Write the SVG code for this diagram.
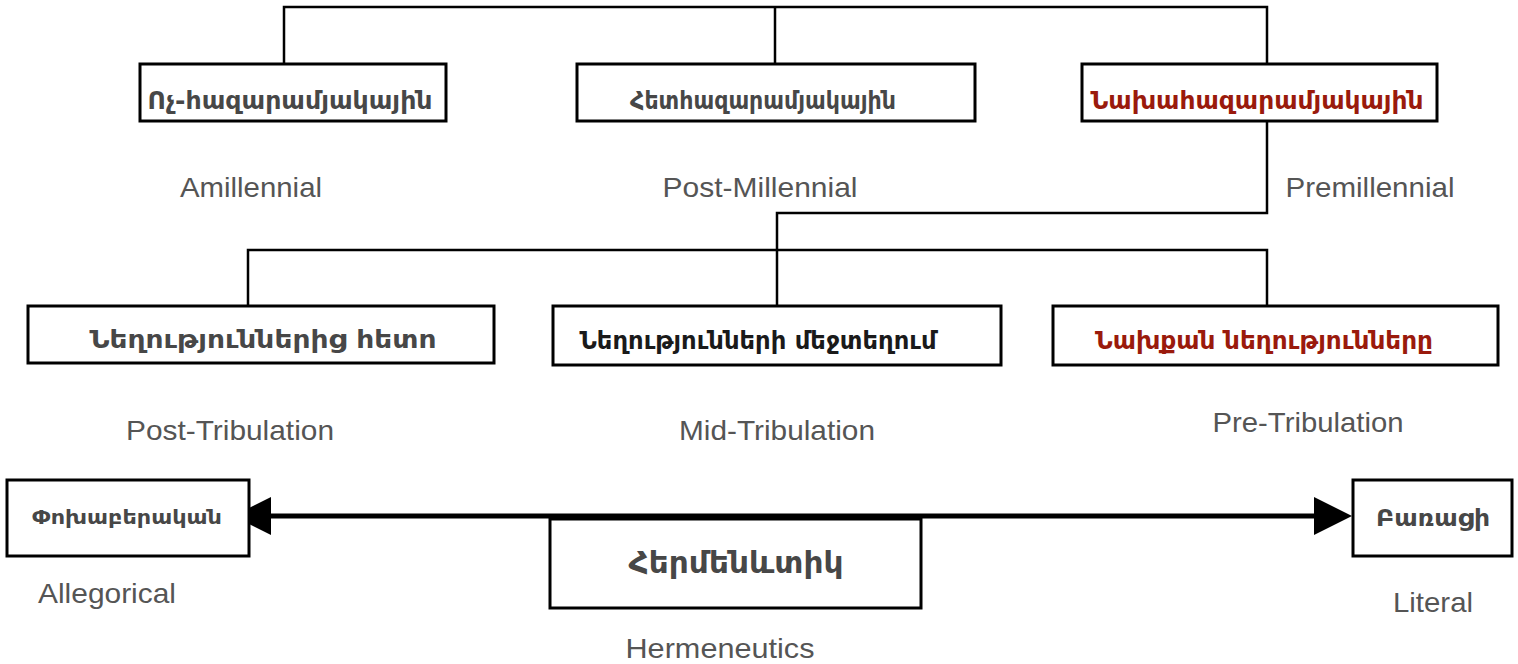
<svg xmlns="http://www.w3.org/2000/svg" width="1518" height="664" viewBox="0 0 1518 664">
<defs>
<style>
.box{fill:#fff;stroke:#000;stroke-width:3}
.hy{font-family:"DejaVu Sans","Noto Sans",sans-serif;font-weight:bold;text-anchor:middle;fill:#474747}
.red{fill:#9a1a0c}
.blk{fill:#1a1a1a}
.en{font-family:"Liberation Sans",Arial,sans-serif;font-size:28px;fill:#555;text-anchor:middle}
.ln{stroke:#000;stroke-width:2.5;fill:none}
</style>
</defs>
<g id="connectors">
<polyline class="ln" points="284,63 284,7 1267,7 1267,63"/>
<line class="ln" x1="775" y1="7" x2="775" y2="63"/>
<polyline class="ln" points="1267,121 1267,213 777,213 777,306"/>
<polyline class="ln" points="248,306 248,250 1267,250 1267,306"/>
<line x1="265" y1="516" x2="1320" y2="516" stroke="#000" stroke-width="5"/>
<polygon points="233,516 271,497 271,535" fill="#000"/>
<polygon points="1352,516 1314,497 1314,535" fill="#000"/>
</g>
<g id="n-amil">
<rect class="box" x="140" y="64" width="306" height="57"/>
<text class="hy" x="290" y="109" font-size="24" textLength="285" lengthAdjust="spacingAndGlyphs">Ոչ-հազարամյակային</text>
<text class="en" x="251" y="197" textLength="142" lengthAdjust="spacingAndGlyphs">Amillennial</text>
</g>
<g id="n-postmil">
<rect class="box" x="577" y="64" width="398" height="57"/>
<text class="hy" x="763" y="109" font-size="24" textLength="266" lengthAdjust="spacingAndGlyphs">Հետհազարամյակային</text>
<text class="en" x="760" y="197" textLength="195" lengthAdjust="spacingAndGlyphs">Post-Millennial</text>
</g>
<g id="n-premil">
<rect class="box" x="1082" y="64" width="355" height="57"/>
<text class="hy red" x="1257" y="109" font-size="24" textLength="333" lengthAdjust="spacingAndGlyphs">Նախահազարամյակային</text>
<text class="en" x="1370" y="197" textLength="169" lengthAdjust="spacingAndGlyphs">Premillennial</text>
</g>
<g id="n-posttrib">
<rect class="box" x="28" y="306" width="466" height="57"/>
<text class="hy" x="263" y="348" font-size="24" textLength="347" lengthAdjust="spacingAndGlyphs">Նեղություններից հետո</text>
<text class="en" x="230" y="440" textLength="208" lengthAdjust="spacingAndGlyphs">Post-Tribulation</text>
</g>
<g id="n-midtrib">
<rect class="box" x="553" y="306" width="448" height="59"/>
<text class="hy blk" x="758" y="349" font-size="24" textLength="357" lengthAdjust="spacingAndGlyphs">Նեղությունների մեջտեղում</text>
<text class="en" x="777" y="440" textLength="196" lengthAdjust="spacingAndGlyphs">Mid-Tribulation</text>
</g>
<g id="n-pretrib">
<rect class="box" x="1053" y="306" width="445" height="59"/>
<text class="hy red" x="1264" y="349" font-size="24" textLength="338" lengthAdjust="spacingAndGlyphs">Նախքան նեղությունները</text>
<text class="en" x="1308" y="432" textLength="191" lengthAdjust="spacingAndGlyphs">Pre-Tribulation</text>
</g>
<g id="n-alleg">
<rect class="box" x="7" y="480" width="242" height="76"/>
<text class="hy" x="127" y="524" font-size="20" textLength="190" lengthAdjust="spacingAndGlyphs">Փոխաբերական</text>
<text class="en" x="107" y="603" textLength="138" lengthAdjust="spacingAndGlyphs">Allegorical</text>
</g>
<g id="n-literal">
<rect class="box" x="1353" y="480" width="159" height="76"/>
<text class="hy" x="1433" y="526" font-size="23" textLength="114" lengthAdjust="spacingAndGlyphs">Բառացի</text>
<text class="en" x="1433" y="612" textLength="80" lengthAdjust="spacingAndGlyphs">Literal</text>
</g>
<g id="n-herm">
<rect class="box" x="550" y="519" width="371" height="89"/>
<text class="hy" x="736" y="573" font-size="31" textLength="215" lengthAdjust="spacingAndGlyphs">Հերմենևտիկ</text>
<text class="en" x="720" y="658" textLength="189" lengthAdjust="spacingAndGlyphs">Hermeneutics</text>
</g>
</svg>
